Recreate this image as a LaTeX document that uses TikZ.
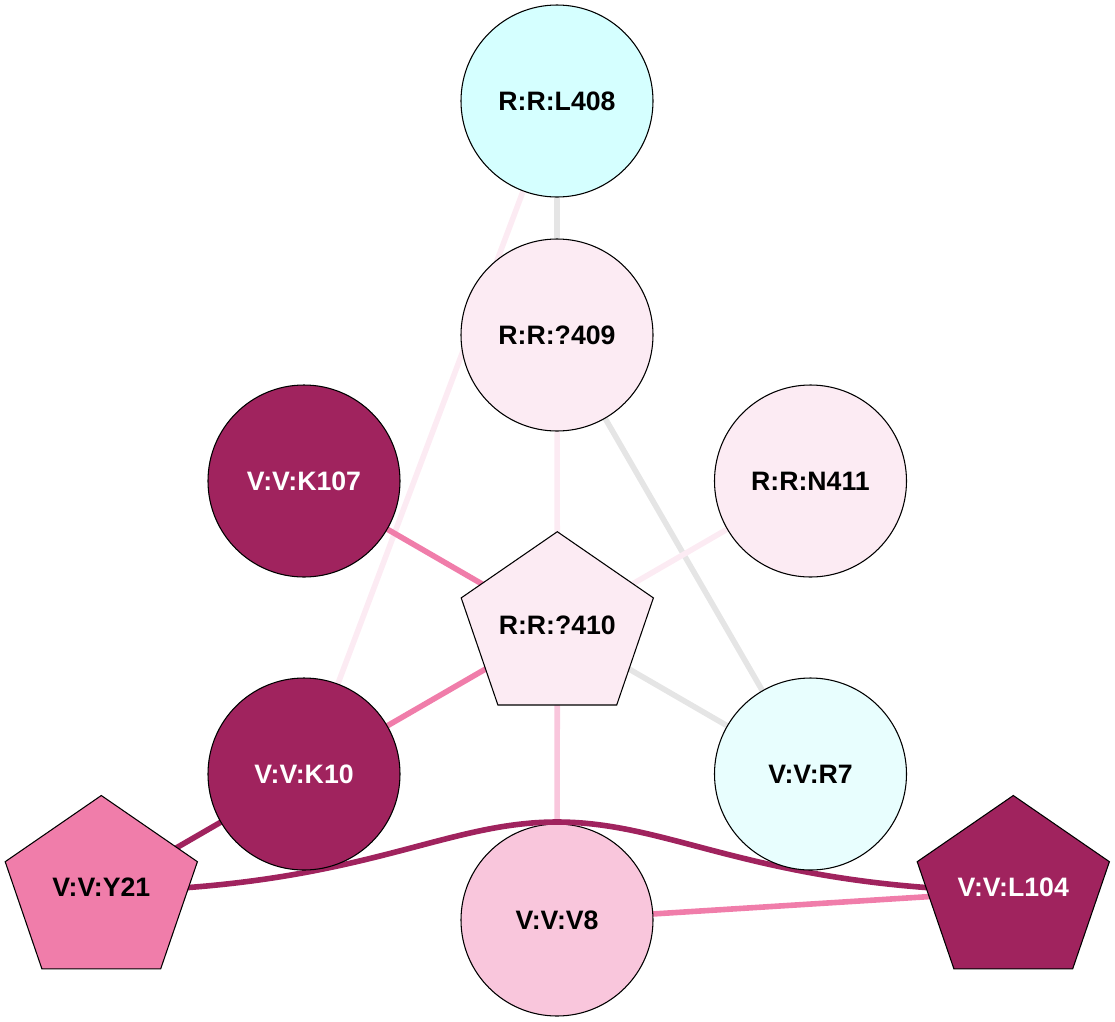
\documentclass[tikz,border=0pt]{standalone}
\usepackage{fontspec}
\setmainfont{Liberation Sans}
\usetikzlibrary{backgrounds,calc}
\definecolor{cdark}{RGB}{160,35,94}
\definecolor{cpink}{RGB}{240,125,170}
\definecolor{cmid}{RGB}{249,198,220}
\definecolor{clight}{RGB}{252,235,243}
\definecolor{ccyan}{RGB}{213,255,255}
\definecolor{ccyanl}{RGB}{232,254,254}
\definecolor{cgray}{RGB}{229,229,229}
\tikzset{
  res/.style={circle, draw=black, line width=0.8pt, minimum size=144pt, inner sep=0pt,
    font=\fontsize{20}{22}\selectfont\bfseries},
  lab/.style={inner sep=0pt, font=\fontsize{20}{22}\selectfont\bfseries},
  pentshape/.style={draw=black, line width=0.8pt, line join=miter},
  edge/.style={line width=4.2pt},
}
\newcommand\pentagonat[2]{%
  \filldraw[pentshape, fill=#2]
    ($(#1)+(0,-95.8)$) -- ($(#1)+(96.1,-29.6)$) -- ($(#1)+(59.4,77.5)$) --
    ($(#1)+(-59.4,77.5)$) -- ($(#1)+(-96.1,-29.6)$) -- cycle;}
\begin{document}
\begin{tikzpicture}[x=0.75pt,y=-0.75pt]
\useasboundingbox (0,0) rectangle (1115,1022);
% pentagon centres
\coordinate (c410) at (557.3,627.5);
\coordinate (cY21) at (101.3,891.3);
\coordinate (cL104) at (1013.3,891.3);
% control points of the curved edge Y21 -- L104
\coordinate (ca) at (360,888);
\coordinate (cb) at (440,822);
\coordinate (mid) at (557,822);
\coordinate (cc) at (674,822);
\coordinate (cd) at (754,888);
% V8 first, so that the curve passes over its top
\node[res, fill=cmid] (V8) at (557,920) {V:V:V8};
\draw[edge, cdark] (cY21) .. controls (ca) and (cb) .. (mid)
                          .. controls (cc) and (cd) .. (cL104);
% other circle nodes
\node[res, fill=ccyan] (L408) at (557,101) {R:R:L408};
\node[res, fill=clight] (R409) at (557,335) {R:R:?409};
\node[res, fill=cdark, text=white] (K107) at (304,481) {V:V:K107};
\node[res, fill=clight] (N411) at (810.5,481) {R:R:N411};
\node[res, fill=cdark, text=white] (K10) at (304,774) {V:V:K10};
\node[res, fill=ccyanl] (R7) at (810.5,774) {V:V:R7};
% pentagon nodes
\pentagonat{c410}{clight}
\pentagonat{cY21}{cpink}
\pentagonat{cL104}{cdark}
\node[lab] (R410) at (557.3,625) {R:R:?410};
\node[lab] (Y21) at (101.3,887) {V:V:Y21};
\node[lab, text=white] (L104) at (1013.3,887) {V:V:L104};
\begin{pgfonlayer}{background}
\draw[edge, cgray] (L408.center) -- (R409.center);
\draw[edge, clight] (L408.center) -- (K10.center);
\draw[edge, clight] (R409.center) -- (c410);
\draw[edge, cgray] (R409.center) -- (R7.center);
\draw[edge, cpink] (K107.center) -- (c410);
\draw[edge, clight] (N411.center) -- (c410);
\draw[edge, cpink] (c410) -- (K10.center);
\draw[edge, cgray] (c410) -- (R7.center);
\draw[edge, cmid] (c410) -- (V8.center);
\draw[edge, cdark] (K10.center) -- (cY21);
\draw[edge, cpink] (V8.center) -- (cL104);
\end{pgfonlayer}
\end{tikzpicture}
\end{document}
